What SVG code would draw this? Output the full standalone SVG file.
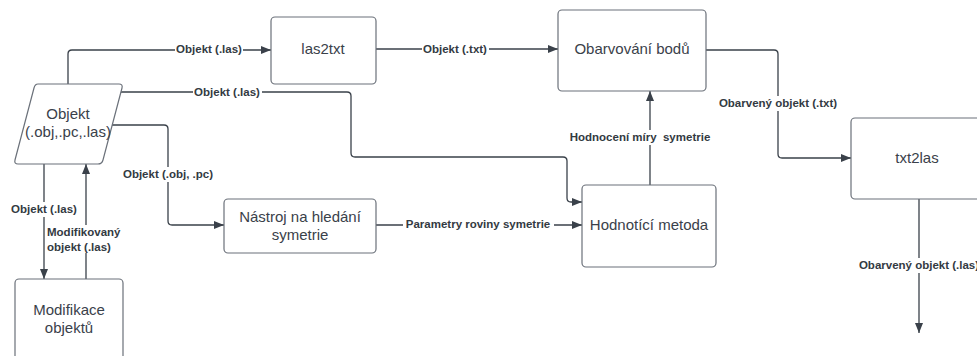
<svg xmlns="http://www.w3.org/2000/svg" width="977" height="356" viewBox="0 0 977 356">
<style>
.box{fill:#fff;stroke:#6b717a;stroke-width:1.2}
.nt{font-family:"Liberation Sans",Arial,sans-serif;font-size:15px;fill:#3a414a;text-anchor:middle}
.ln{fill:none;stroke:#3a414a;stroke-width:1.3}
.lb{font-family:"Liberation Sans",Arial,sans-serif;font-size:11.5px;font-weight:bold;fill:#333a42;text-anchor:middle}
.bg{fill:#fff}
</style>
<defs>
<marker id="ah" viewBox="0 0 10 8" refX="10" refY="4" markerWidth="10" markerHeight="8" markerUnits="userSpaceOnUse" orient="auto">
<path d="M0,0 L10,4 L0,8 Z" fill="#3a414a"/>
</marker>
</defs>
<g id="connectors">
<path class="ln" d="M68,84 V54 Q68,50 72,50 H271" marker-end="url(#ah)"/>
<path class="ln" d="M376,49 H558" marker-end="url(#ah)"/>
<path class="ln" d="M119,92 H347 Q351,92 351,96 V153 Q351,157 355,157 H563 Q567,157 567,161 V198 Q567,202 571,202 H582" marker-end="url(#ah)"/>
<path class="ln" d="M111,125 H164 Q168,125 168,129 V221 Q168,225 172,225 H224" marker-end="url(#ah)"/>
<path class="ln" d="M376,225 H582" marker-end="url(#ah)"/>
<path class="ln" d="M650,185 V91" marker-end="url(#ah)"/>
<path class="ln" d="M706,50 H774 Q778,50 778,54 V154 Q778,158 782,158 H851" marker-end="url(#ah)"/>
<path class="ln" d="M919,199 V333" marker-end="url(#ah)"/>
<path class="ln" d="M44,164 V279" marker-end="url(#ah)"/>
<path class="ln" d="M86,279 V164" marker-end="url(#ah)"/>
<rect class="bg" x="175" y="42" width="68" height="15"/>
<text class="lb" x="209" y="53">Objekt (.las)</text>
<rect class="bg" x="422" y="42" width="67" height="15"/>
<text class="lb" x="455" y="53">Objekt (.txt)</text>
<rect class="bg" x="193" y="85" width="69" height="15"/>
<text class="lb" x="227" y="96">Objekt (.las)</text>
<rect class="bg" x="121" y="167" width="93" height="15"/>
<text class="lb" x="168" y="178">Objekt (.obj, .pc)</text>
<rect class="bg" x="403" y="217" width="151" height="15"/>
<text class="lb" x="478" y="228">Parametry roviny symetrie</text>
<rect class="bg" x="566" y="130" width="148" height="15"/>
<text class="lb" x="640" y="141" xml:space="preserve">Hodnocení míry  symetrie</text>
<rect class="bg" x="717" y="96" width="123" height="15"/>
<text class="lb" x="778" y="107">Obarvený objekt (.txt)</text>
<rect class="bg" x="855" y="258" width="128" height="15"/>
<text class="lb" x="919" y="269">Obarvený objekt (.las)</text>
<rect class="bg" x="9" y="202" width="70" height="15"/>
<text class="lb" x="44" y="213">Objekt (.las)</text>
<rect class="bg" x="46" y="225" width="78" height="28"/>
<text class="lb" x="47" y="236" style="text-anchor:start">Modifikovaný</text>
<text class="lb" x="47" y="251" style="text-anchor:start">objekt (.las)</text>
</g>
<g id="node-objekt">
<path class="box" d="M38,84 H119 Q123,84 122,88 L103,160 Q102,164 98,164 H18 Q14,164 15,160 L34,88 Q35,84 38,84 Z"/>
<text class="nt" x="68" y="119">Objekt</text>
<text class="nt" x="68" y="137">(.obj,.pc,.las)</text>
</g>
<g id="node-las2txt">
<rect class="box" x="271" y="17" width="105" height="67" rx="4"/>
<text class="nt" x="323" y="54">las2txt</text>
</g>
<g id="node-obarvovani">
<rect class="box" x="558" y="10" width="148" height="81" rx="4"/>
<text class="nt" x="632" y="54">Obarvování bodů</text>
</g>
<g id="node-txt2las">
<rect class="box" x="851" y="118" width="140" height="81" rx="4"/>
<text class="nt" x="917" y="163">txt2las</text>
</g>
<g id="node-nastroj">
<rect class="box" x="224" y="199" width="152" height="54" rx="4"/>
<text class="nt" x="300" y="222">Nástroj na hledání</text>
<text class="nt" x="300" y="240">symetrie</text>
</g>
<g id="node-hodnotici">
<rect class="box" x="582" y="185" width="134" height="82" rx="4"/>
<text class="nt" x="649" y="230">Hodnotící metoda</text>
</g>
<g id="node-modifikace">
<rect class="box" x="15" y="279" width="108" height="90" rx="4"/>
<text class="nt" x="69" y="315">Modifikace</text>
<text class="nt" x="69" y="333">objektů</text>
</g>
</svg>
